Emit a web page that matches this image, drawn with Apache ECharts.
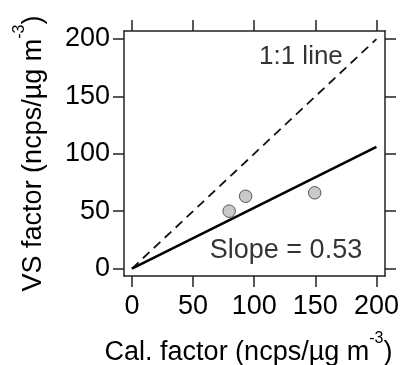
<!DOCTYPE html>
<html>
<head>
<meta charset="utf-8">
<script src="https://cdn.jsdelivr.net/npm/echarts@6/dist/echarts.min.js"></script>
<style>
html,body{margin:0;padding:0;background:#fff;}
#chart{width:402px;height:365px;}
</style>
</head>
<body>
<div id="chart"></div>
<script>
// Data
var calFactor = [79.5, 93, 149.5];
var vsFactor = [50, 63, 66];
var oneToOneLine = [[0, 0], [200, 200]];
var fitLine = [[0, 0], [200, 106]];
var tickValues = [0, 50, 100, 150, 200];
var oneToOneLabel = '1:1 line';
var slopeLabel = 'Slope = 0.53';

var points = calFactor.map(function (x, i) { return [x, vsFactor[i]]; });

var FONT = "'Liberation Sans', Arial, sans-serif";
var AXIS_COLOR = '#222';

function baseAxis(extra) {
  var a = {
    type: 'value',
    min: -6.5,
    max: 207,
    splitLine: { show: false },
    axisLine: { show: true, onZero: false, lineStyle: { color: AXIS_COLOR, width: 1.5 } },
    axisTick: { show: true, inside: false, length: 11, customValues: tickValues,
                lineStyle: { color: AXIS_COLOR, width: 1.5 } },
    axisLabel: { show: false }
  };
  for (var k in extra) a[k] = extra[k];
  return a;
}

var chart = echarts.init(document.getElementById('chart'), null, { renderer: 'canvas' });
chart.setOption({
  animation: false,
  backgroundColor: '#fff',
  grid: { left: 124, top: 31, width: 261, height: 245, containLabel: false, outerBoundsMode: 'none' },
  xAxis: [
    baseAxis({
      position: 'bottom',
      axisLabel: { show: true, customValues: tickValues, margin: 17, fontSize: 27,
                   fontFamily: FONT, color: '#000' },
      name: '{a|Cal. factor (ncps/µg m}{s|-3}{a|)}',
      nameLocation: 'middle',
      nameGap: 55,
      nameTextStyle: {
        padding: [0, 12, 0, 0],
        rich: {
          a: { fontSize: 27, fontFamily: FONT, color: '#000', lineHeight: 44 },
          s: { fontSize: 16, fontFamily: FONT, color: '#000', lineHeight: 16, verticalAlign: 'top' }
        }
      }
    }),
    baseAxis({ position: 'top' })
  ],
  yAxis: [
    baseAxis({
      position: 'left',
      axisLabel: { show: true, customValues: tickValues, margin: 14, fontSize: 27,
                   fontFamily: FONT, color: '#000' },
      name: '{a|VS factor (ncps/µg m}{s|-3}{a|)}',
      nameLocation: 'middle',
      nameGap: 68,
      nameRotate: 90,
      nameTextStyle: {
        rich: {
          a: { fontSize: 27, fontFamily: FONT, color: '#000', lineHeight: 44 },
          s: { fontSize: 16, fontFamily: FONT, color: '#000', lineHeight: 16, verticalAlign: 'top' }
        }
      }
    }),
    baseAxis({ position: 'right' })
  ],
  series: [
    {
      type: 'line',
      data: oneToOneLine,
      symbol: 'none',
      lineStyle: { color: '#111', width: 1.8, type: [9, 6] },
      z: 2,
      silent: true
    },
    {
      type: 'line',
      data: fitLine,
      symbol: 'none',
      lineStyle: { color: '#000', width: 2.6 },
      z: 3,
      silent: true
    },
    {
      type: 'scatter',
      data: points,
      symbol: 'circle',
      symbolSize: 12.5,
      itemStyle: { color: '#c9c9c9', borderColor: '#555', borderWidth: 1, opacity: 1 },
      z: 4
    },
    {
      type: 'scatter',
      data: [[172.5, 184.5, oneToOneLabel]],
      symbolSize: 0,
      label: { show: true, position: 'inside', align: 'right', verticalAlign: 'middle',
               formatter: function (p) { return p.data[2]; },
               fontSize: 26, fontFamily: FONT, color: '#000' },
      z: 5,
      silent: true
    },
    {
      type: 'scatter',
      data: [[126, 16, slopeLabel]],
      symbolSize: 0,
      label: { show: true, position: 'inside', align: 'center', verticalAlign: 'middle',
               formatter: function (p) { return p.data[2]; },
               fontSize: 27, fontFamily: FONT, color: '#000' },
      z: 5,
      silent: true
    }
  ]
});
</script>
</body>
</html>
